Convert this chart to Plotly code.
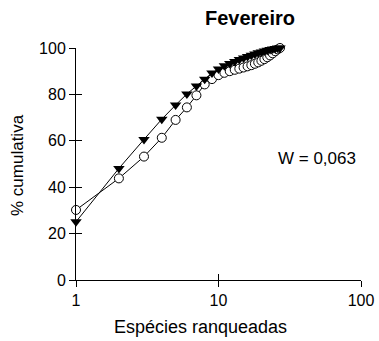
import plotly.graph_objects as go

ranks = list(range(1, 28))
triangles = [25.1, 48.1, 60.6, 69.3, 75.4, 80.2, 83.6, 86.5, 89.2, 91.0,
             92.3, 93.3, 94.2, 95.0, 95.7, 96.3, 96.9, 97.4, 97.9, 98.3,
             98.7, 99.0, 99.3, 99.6, 99.8, 100.0, 100.0]
circles = [30.2, 43.8, 53.2, 61.3, 69.0, 74.4, 79.6, 84.3, 86.6, 88.3,
           89.3, 90.0, 90.6, 91.1, 91.6, 92.1, 92.6, 93.2, 93.8, 94.5,
           95.2, 96.0, 96.8, 97.7, 98.6, 99.4, 100.0]
x_ticks = [1, 10, 100]
y_ticks = [0, 20, 40, 60, 80, 100]

FONT = "Liberation Sans, Arial, sans-serif"
W, H = 379, 341

fig = go.Figure()
fig.add_trace(go.Scatter(
    x=ranks, y=circles, mode="lines+markers",
    line=dict(color="black", width=1),
    marker=dict(symbol="circle", size=9, color="white",
                line=dict(color="black", width=1)),
    cliponaxis=False, showlegend=False))
fig.add_trace(go.Scatter(
    x=ranks, y=triangles, mode="lines+markers",
    line=dict(color="black", width=1),
    marker=dict(symbol="triangle-down", size=10, color="black",
                line=dict(color="black", width=0)),
    cliponaxis=False, showlegend=False))
# invisible trace to drive the inside-tick overlay axes
fig.add_trace(go.Scatter(x=[1, 100], y=[0, 100], xaxis="x2", yaxis="y2",
                         mode="markers", marker=dict(opacity=0),
                         showlegend=False, hoverinfo="skip"))

axis_common = dict(showgrid=False, zeroline=False, color="black",
                   automargin=False,
                   tickfont=dict(family=FONT, size=16, color="black"))

fig.update_layout(
    template="none",
    width=W, height=H, autosize=False,
    margin=dict(l=76, r=18, t=48, b=61),
    paper_bgcolor="white", plot_bgcolor="white",
    font=dict(family=FONT, color="black"),
    title=dict(text="<b>Fevereiro</b>", x=250/W, xanchor="center",
               xref="container", y=1-18/H, yanchor="middle", yref="container",
               font=dict(family=FONT, size=20, color="black")),
    xaxis=dict(type="log", range=[0, 2], tickvals=x_ticks,
               ticktext=[str(v) for v in x_ticks],
               showline=True, linecolor="black", linewidth=1,
               ticks="outside", ticklen=6, tickcolor="black", **axis_common),
    yaxis=dict(range=[0, 100], tickvals=y_ticks,
               showline=True, linecolor="black", linewidth=1,
               ticks="outside", ticklen=6, tickcolor="black", **axis_common),
    xaxis2=dict(type="log", range=[0, 2], tickvals=x_ticks, overlaying="x",
                showticklabels=False, showline=False, ticks="inside",
                ticklen=6, tickcolor="black", showgrid=False, zeroline=False,
                automargin=False),
    yaxis2=dict(range=[0, 100], tickvals=y_ticks[1:], overlaying="y",
                showticklabels=False, showline=False, ticks="inside",
                ticklen=6, tickcolor="black", showgrid=False, zeroline=False,
                automargin=False),
    annotations=[
        dict(text="W = 0,063", x=317, y=158, showarrow=False,
             font=dict(family=FONT, size=17, color="black")),
        dict(text="Espécies ranqueadas", x=200, y=327, showarrow=False,
             font=dict(family=FONT, size=18, color="black")),
        dict(text="% cumulativa", x=17, y=165, textangle=-90, showarrow=False,
             font=dict(family=FONT, size=17, color="black")),
    ],
)

# convert pixel-placed annotations to paper coordinates
pl, pr, pt, pb = 76, W - 18, 48, H - 61
for a in fig.layout.annotations:
    px, py = a.x, a.y
    a.xref = "paper"
    a.yref = "paper"
    a.x = (px - pl) / (pr - pl)
    a.y = (pb - py) / (pb - pt)
    a.xanchor = "center"
    a.yanchor = "middle"

post = (
    "document.documentElement.style.overflow='hidden';"
    "document.body.style.margin='0';"
    "document.body.style.overflow='hidden';"
    "var gd=document.getElementById('{plot_id}');"
    "gd.style.width='379px';gd.style.height='341px';"
    "Plotly.relayout(gd,{width:379,height:341,autosize:false});"
)
fig.write_html("out.html",
               config={"displayModeBar": False, "responsive": False},
               post_script=post)
